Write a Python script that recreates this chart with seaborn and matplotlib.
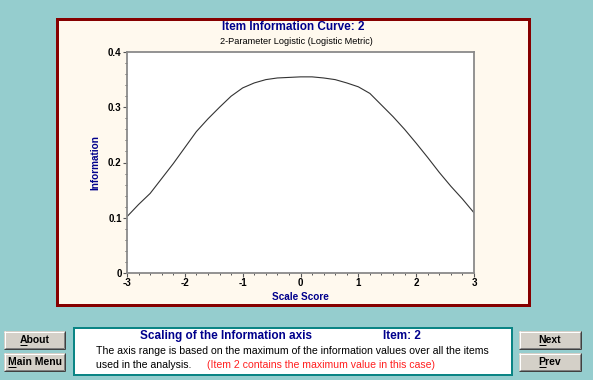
import matplotlib
matplotlib.use("Agg")
import matplotlib.pyplot as plt
import seaborn as sns
import pandas as pd
from matplotlib.patches import Rectangle
from matplotlib.lines import Line2D
from matplotlib.ticker import MultipleLocator

# curve values
theta = [-3.0, -2.8, -2.6, -2.4, -2.2, -2.0, -1.8, -1.6, -1.4, -1.2, -1.0, -0.8, -0.6, -0.4, -0.2,
         0.0, 0.2, 0.4, 0.6, 0.8, 1.0, 1.2, 1.4, 1.6, 1.8, 2.0, 2.2, 2.4, 2.6, 2.8, 3.0]
info = [0.102, 0.124, 0.144, 0.171, 0.198, 0.227, 0.256, 0.279, 0.300, 0.320, 0.335, 0.344,
        0.350, 0.353, 0.354, 0.355, 0.355, 0.353, 0.350, 0.344, 0.337, 0.325, 0.304, 0.283,
        0.260, 0.235, 0.209, 0.182, 0.157, 0.134, 0.109]
x_ticks = [-3, -2, -1, 0, 1, 2, 3]
y_ticks = [0, 0.1, 0.2, 0.3, 0.4]
y_tick_labels = ["0", "0.1", "0.2", "0.3", "0.4"]

title = "Item Information Curve: 2"
subtitle = "2-Parameter Logistic (Logistic Metric)"
box_title = "Scaling of the Information axis"
box_item = "Item: 2"
box_line1 = "The axis range is based on the maximum of the information values over all the items"
box_line2 = "used in the analysis."
box_note = "(Item 2 contains the maximum value in this case)"

df = pd.DataFrame({"Scale Score": theta, "Information": info})

sns.set_style("ticks")
plt.rcParams['font.family'] = ['Liberation Sans', 'DejaVu Sans']

W, H = 593, 380
NAVY = "#00008C"
fig = plt.figure(figsize=(W / 100, H / 100), dpi=100)
fig.patch.set_facecolor("#95CDCE")

def fx(x):
    return x / W

def fy(y):
    return 1 - y / H

def px2pt(p):
    return p * 0.72

def rect(x0, y0, x1, y1, fc, ec, lw_px):
    r = Rectangle((fx(x0), fy(y1)), fx(x1) - fx(x0), fy(y0) - fy(y1),
                  transform=fig.transFigure, facecolor=fc, edgecolor=ec,
                  linewidth=px2pt(lw_px), zorder=0)
    fig.add_artist(r)

def line(x0, y0, x1, y1, color, lw_px=1):
    fig.add_artist(Line2D([fx(x0), fx(x1)], [fy(y0), fy(y1)], transform=fig.transFigure,
                          color=color, linewidth=px2pt(lw_px), solid_capstyle="butt"))

# chart panel with maroon frame
rect(56.5, 18.5, 528.5, 304.5, "#FFF9EE", "#860000", 3)
# info box
rect(74, 328, 512, 375, "white", "#0B8585", 2)

ax = fig.add_axes([fx(127), fy(273), fx(474) - fx(127), fy(52) - fy(273)])
sns.lineplot(data=df, x="Scale Score", y="Information", ax=ax, color="#333333", linewidth=0.8)
ax.set_facecolor("white")
ax.set_xlim(-3, 3)
ax.set_ylim(0, 0.4)
ax.set_xticks(x_ticks)
ax.set_xticklabels([str(t) for t in x_ticks])
ax.set_yticks(y_ticks)
ax.set_yticklabels(y_tick_labels)
ax.xaxis.set_minor_locator(MultipleLocator(0.2))
ax.yaxis.set_minor_locator(MultipleLocator(0.02))
for s in ax.spines.values():
    s.set_visible(True)
    s.set_color("#8A8A8A")
    s.set_linewidth(1.3)
ax.tick_params(which="major", length=3, width=0.8, color="#555555", pad=0.8,
               labelsize=7, labelcolor="black")
ax.tick_params(which="minor", length=1.6, width=0.7, color="#555555")
for lab in ax.get_xticklabels() + ax.get_yticklabels():
    lab.set_fontweight("bold")

ax.set_xlabel("Scale Score", fontsize=7.2, fontweight="bold", color=NAVY)
ax.set_ylabel("Information", fontsize=7.2, fontweight="bold", color=NAVY)
ax.xaxis.set_label_coords((300 - 127) / 347, (273 - 297.5) / 221)
ax.xaxis.label.set_va("center")
ax.yaxis.set_label_coords((95 - 127) / 347, 0.5)
ax.yaxis.label.set_va("center")

fig.text(fx(293), fy(27), title, ha="center", va="center", fontsize=8.45,
         fontweight="bold", color=NAVY)
fig.text(fx(296), fy(41.5), subtitle, ha="center", va="center", fontsize=6.6, color="black")

fig.text(fx(140), fy(336), box_title, ha="left", va="center", fontsize=8.45,
         fontweight="bold", color=NAVY)
fig.text(fx(383), fy(336), box_item, ha="left", va="center", fontsize=8.45,
         fontweight="bold", color=NAVY)
fig.text(fx(96), fy(351), box_line1, ha="left", va="center", fontsize=7.55, color="black")
fig.text(fx(96), fy(364.5), box_line2, ha="left", va="center", fontsize=7.55, color="black")
fig.text(fx(207), fy(364.5), box_note, ha="left", va="center", fontsize=7.55, color="#FF2020")

# buttons
buttons = [(4, 331, 65, 349, "About"), (4, 353, 65, 371, "Main Menu"),
           (519, 331, 581, 349, "Next"), (519, 353, 581, 371, "Prev")]
fig.canvas.draw()
renderer = fig.canvas.get_renderer()
for x0, y0, x1, y1, label in buttons:
    rect(x0, y0, x1, y1, "#D4D0C8", "none", 0)
    line(x0, y0 + 0.5, x1, y0 + 0.5, "white")
    line(x0 + 0.5, y0, x0 + 0.5, y1, "white")
    line(x0, y1 - 0.5, x1, y1 - 0.5, "#404040")
    line(x1 - 0.5, y0, x1 - 0.5, y1, "#404040")
    line(x0 + 1, y1 - 1.5, x1 - 1, y1 - 1.5, "#808080")
    line(x1 - 1.5, y0 + 1, x1 - 1.5, y1 - 1, "#808080")
    t = fig.text(fx((x0 + x1) / 2), fy((y0 + y1) / 2), label, ha="center", va="center",
                 fontsize=7.5, fontweight="bold", color="black")
    bb = t.get_window_extent(renderer)
    tmp = fig.text(0, 0, label[0], fontsize=7.5, fontweight="bold")
    w = tmp.get_window_extent(renderer).width
    tmp.remove()
    ux0 = bb.x0
    uy = H - (bb.y0 + 0.5)
    line(ux0, uy, ux0 + w, uy, "black")

fig.savefig("out.png", dpi=100, facecolor=fig.get_facecolor())
